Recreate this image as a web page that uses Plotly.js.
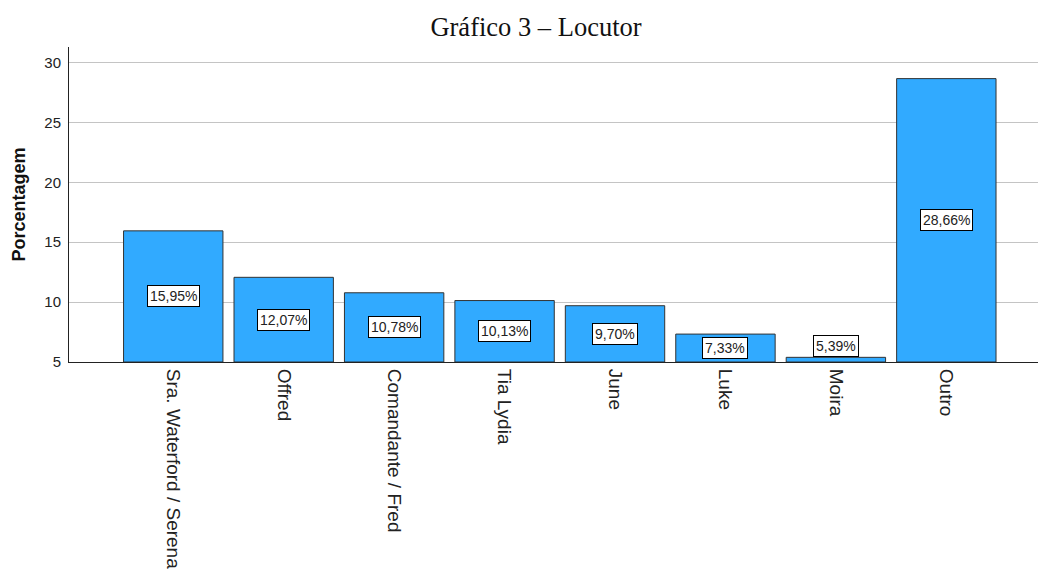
<!DOCTYPE html>
<html>
<head>
<meta charset="utf-8">
<script src="https://cdn.plot.ly/plotly-3.0.1.min.js"></script>
<style>
html,body{margin:0;padding:0;background:#fff;}
#chart{width:1038px;height:574px;}
</style>
</head>
<body>
<div id="chart"></div>
<script>
// Data
var categories = ["Sra. Waterford / Serena", "Offred", "Comandante / Fred", "Tia Lydia", "June", "Luke", "Moira", "Outro"];
var percentages = [15.95, 12.07, 10.78, 10.13, 9.70, 7.33, 5.39, 28.66];
var yTicks = [5, 10, 15, 20, 25, 30];

var axisBase = 5;
var sansFont = "Liberation Sans, Arial, sans-serif";

var annotations = percentages.map(function (v, i) {
  var small = (v - axisBase) < 1.5;
  return {
    x: categories[i],
    y: small ? v : (axisBase + v) / 2,
    xref: "x", yref: "y",
    yanchor: small ? "bottom" : "middle",
    text: v.toFixed(2).replace(".", ",") + "%",
    showarrow: false,
    font: {family: sansFont, size: 14, color: "#222"},
    bgcolor: "#ffffff",
    bordercolor: "#000000",
    borderwidth: 1,
    borderpad: 2
  };
});

var trace = {
  type: "bar",
  x: categories,
  y: percentages.map(function (v) { return v - axisBase; }),
  base: axisBase,
  marker: {color: "#31aaff", line: {color: "#333333", width: 1}},
  hoverinfo: "x+y"
};

var layout = {
  width: 1038,
  height: 574,
  margin: {l: 69, r: 0, t: 47, b: 212},
  paper_bgcolor: "#ffffff",
  plot_bgcolor: "#ffffff",
  bargap: 0.1,
  showlegend: false,
  title: {
    text: "Gráfico 3 – Locutor",
    font: {family: "Liberation Serif, Times New Roman, serif", size: 26.5, color: "#111"},
    x: 536 / 1038, xref: "container", xanchor: "center",
    y: 1 - 27 / 574, yref: "container", yanchor: "middle"
  },
  xaxis: {
    type: "category",
    range: [-0.944, 7.83],
    tickangle: 90,
    ticks: "",
    ticklabelstandoff: 2,
    tickfont: {family: sansFont, size: 19, color: "#222"},
    showline: true, linecolor: "#222", linewidth: 1,
    showgrid: false, zeroline: false
  },
  yaxis: {
    range: [5, 31.3],
    tickvals: yTicks,
    ticktext: yTicks.map(String),
    ticks: "",
    ticklabelstandoff: 4,
    tickfont: {family: sansFont, size: 15, color: "#222"},
    showline: true, linecolor: "#222", linewidth: 1,
    showgrid: true, gridcolor: "#c4c4c4", gridwidth: 1,
    zeroline: false,
    title: {
      text: "Porcentagem",
      font: {family: sansFont, size: 18, color: "#111", weight: "bold"},
      standoff: 14
    }
  },
  annotations: annotations
};

Plotly.newPlot("chart", [trace], layout, {displayModeBar: false, staticPlot: true});
</script>
</body>
</html>
